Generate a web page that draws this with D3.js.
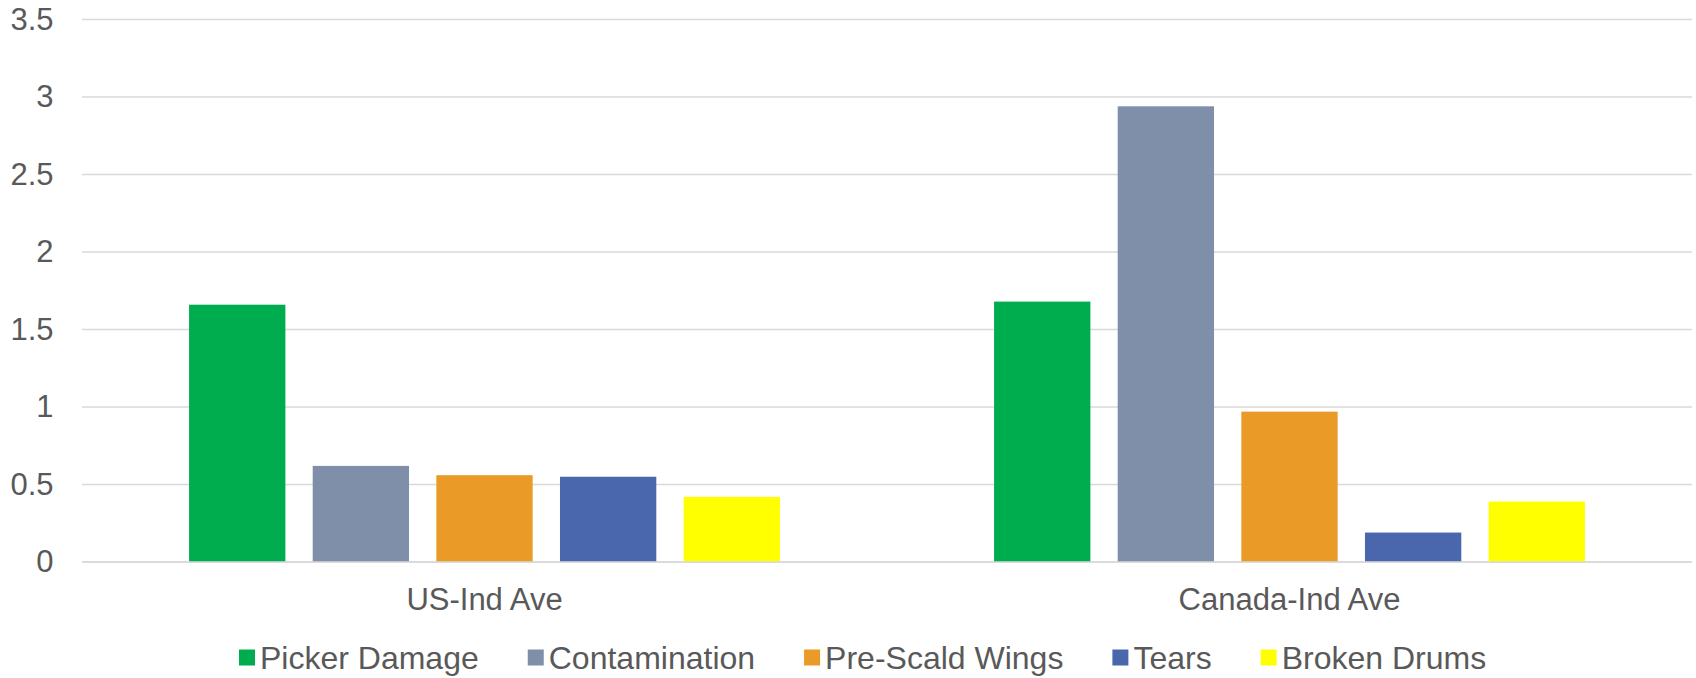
<!DOCTYPE html>
<html>
<head>
<meta charset="utf-8">
<script src="https://cdn.jsdelivr.net/npm/d3@7"></script>
<style>
  html, body { margin: 0; padding: 0; background: #ffffff; }
  svg { display: block; }
  text { font-family: "Liberation Sans", Arial, sans-serif; fill: #595959; }
</style>
</head>
<body>
<svg id="chart" width="1696" height="678"></svg>
<script>
// Regions on the x axis
const categories = ["US-Ind Ave", "Canada-Ind Ave"];

// Defect types (one bar per region)
const seriesNames = ["Picker Damage", "Contamination", "Pre-Scald Wings", "Tears", "Broken Drums"];
const seriesColors = ["#00AD4E", "#7F8FA9", "#EA9A27", "#4A67AE", "#FFFF00"];

// Values per defect type, in category order
const pickerDamage   = [1.66, 1.68];
const contamination  = [0.62, 2.94];
const preScaldWings  = [0.56, 0.97];
const tears          = [0.55, 0.19];
const brokenDrums    = [0.42, 0.39];
const seriesValues = [pickerDamage, contamination, preScaldWings, tears, brokenDrums];

// Value axis ticks
const yTicks = [0, 0.5, 1, 1.5, 2, 2.5, 3, 3.5];

const svg = d3.select("#chart");
const plot = { left: 82, right: 1692, top: 19.5, bottom: 562 };

const y = d3.scaleLinear().domain([0, 3.5]).range([plot.bottom, plot.top]);

const x0 = d3.scaleBand()
  .domain(categories)
  .range([plot.left, plot.right])
  .padding(0);

const bw = x0.bandwidth();
const x1 = d3.scaleBand()
  .domain(seriesNames)
  .range([bw * 0.133, bw * 0.867])
  .paddingInner(0.221)
  .paddingOuter(0);

// Horizontal gridlines
svg.append("g")
  .selectAll("line")
  .data(yTicks)
  .join("line")
  .attr("x1", plot.left)
  .attr("x2", plot.right)
  .attr("y1", d => y(d))
  .attr("y2", d => y(d))
  .attr("stroke", "#d9d9d9")
  .attr("stroke-width", 1.5);

// Y axis labels
const yAxis = svg.append("g")
  .attr("transform", `translate(${plot.left},0)`)
  .call(d3.axisLeft(y).tickValues(yTicks).tickFormat(d3.format("")).tickSize(0).tickPadding(28.5));
yAxis.select(".domain").remove();
yAxis.selectAll("text").style("font-size", "31px").attr("fill", "#595959");

// Bars
const rows = [];
seriesNames.forEach((s, si) => {
  categories.forEach((c, ci) => {
    rows.push({ series: s, category: c, value: seriesValues[si][ci], color: seriesColors[si] });
  });
});

svg.append("g")
  .selectAll("rect")
  .data(rows)
  .join("rect")
  .attr("x", d => x0(d.category) + x1(d.series))
  .attr("width", x1.bandwidth())
  .attr("y", d => y(d.value))
  .attr("height", d => y(0) - y(d.value))
  .attr("fill", d => d.color);

// Baseline
svg.append("line")
  .attr("x1", plot.left).attr("x2", plot.right)
  .attr("y1", y(0)).attr("y2", y(0))
  .attr("stroke", "#d9d9d9").attr("stroke-width", 1.5);

// Category labels
const xAxis = svg.append("g")
  .attr("transform", `translate(0,${plot.bottom})`)
  .call(d3.axisBottom(x0).tickSize(0).tickPadding(26));
xAxis.select(".domain").remove();
xAxis.selectAll("text").style("font-size", "31px").attr("fill", "#595959");

// Legend
const legend = svg.append("g").attr("transform", "translate(239,0)");
let lx = 0;
seriesNames.forEach((name, i) => {
  const item = legend.append("g").attr("transform", `translate(${lx},0)`);
  item.append("rect")
    .attr("x", 0).attr("y", 649.5)
    .attr("width", 16).attr("height", 16)
    .attr("fill", seriesColors[i]);
  const t = item.append("text")
    .attr("x", 21).attr("y", 669)
    .style("font-size", "32px")
    .text(name);
  lx += 21 + t.node().getComputedTextLength() + 49;
});
</script>
</body>
</html>
